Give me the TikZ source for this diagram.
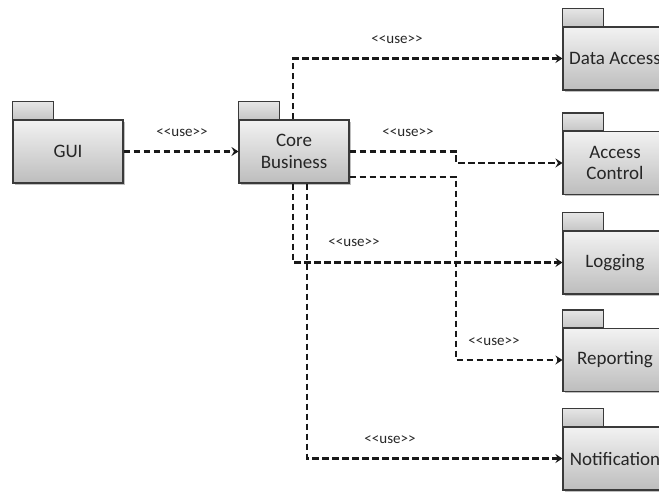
\documentclass[tikz,border=0pt]{standalone}
\usepackage{fontspec}
\setmainfont{Carlito}
\usetikzlibrary{arrows.meta,shadows}

\definecolor{ink}{HTML}{262626}
\definecolor{edgegray}{HTML}{3A3A3A}
\definecolor{pkgtop}{HTML}{F2F2F2}
\definecolor{pkgbot}{HTML}{BDBDBD}
\definecolor{tabtop}{HTML}{E6E6E6}
\definecolor{tabbot}{HTML}{C6C6C6}

\tikzset{
  pkg/.style={draw=edgegray, line width=1.1pt, top color=pkgtop, bottom color=pkgbot,
    minimum width=#1, minimum height=63pt, inner sep=0pt, align=center,
    text=ink, font=\fontsize{19}{21.5}\selectfont,
    drop shadow={shadow xshift=1.5pt, shadow yshift=-1.5pt, opacity=0.25, fill=black}},
  pkg/.default=110pt,
  pkgtab/.style={draw=edgegray, line width=1.1pt, top color=tabtop, bottom color=tabbot},
  uses/.style={draw=black!90, line width=2.3pt, dash pattern=on 6.5pt off 3.5pt,
    -{Stealth[length=7pt,width=9pt,inset=2.5pt]}},
  stereo/.style={text=ink, font=\fontsize{15}{17}\selectfont, inner sep=0pt},
}

% package folder tab sitting on the top edge of a package body
\newcommand{\foldertab}[1]{\path[pkgtab] (#1.north west) rectangle ++(41,-18);}

\begin{document}
\begin{tikzpicture}[x=1pt,y=-1pt]
  \useasboundingbox (0,0) rectangle (659,491);
  \clip (0,0) rectangle (659,491);

  % packages
  \node[pkg] (gui)  at (68,151.5) {GUI};
  \node[pkg] (core) at (294,151.5) {Core\\Business};
  \node[pkg=104pt] (da) at (615,58.5)  {Data Access};
  \node[pkg=104pt] (ac) at (615,163)   {Access\\Control};
  \node[pkg=104pt] (lg) at (615,262.5) {Logging};
  \node[pkg=104pt] (rp) at (615,360)   {Reporting};
  \node[pkg=104pt] (nt) at (615,458.5) {Notification};
  \foreach \p in {gui,core,da,ac,lg,rp,nt}{\foldertab{\p}}

  % dependencies
  \draw[uses] (gui) -- (core);
  \draw[uses] ([xshift=-1pt]core.north) |- (da.west);
  \draw[uses] (core.east) -- (456,151.5) |- (ac.west);
  \draw[uses] ([yshift=-25.5pt]core.east) -- (456,177) |- (rp.west);
  \draw[uses] ([xshift=-1pt]core.south) |- (lg.west);
  \draw[uses] ([xshift=13pt]core.south) |- (nt.west);

  % stereotypes
  \node[stereo] (l1) at (182,133) {<{}<use>{}>};
  \node[stereo] (l2) at (397,40)  {<{}<use>{}>};
  \node[stereo] (l3) at (408,133) {<{}<use>{}>};
  \node[stereo] (l4) at (354,243) {<{}<use>{}>};
  \node[stereo] (l5) at (494,342) {<{}<use>{}>};
  \node[stereo] (l6) at (390,440) {<{}<use>{}>};
\end{tikzpicture}
\end{document}
